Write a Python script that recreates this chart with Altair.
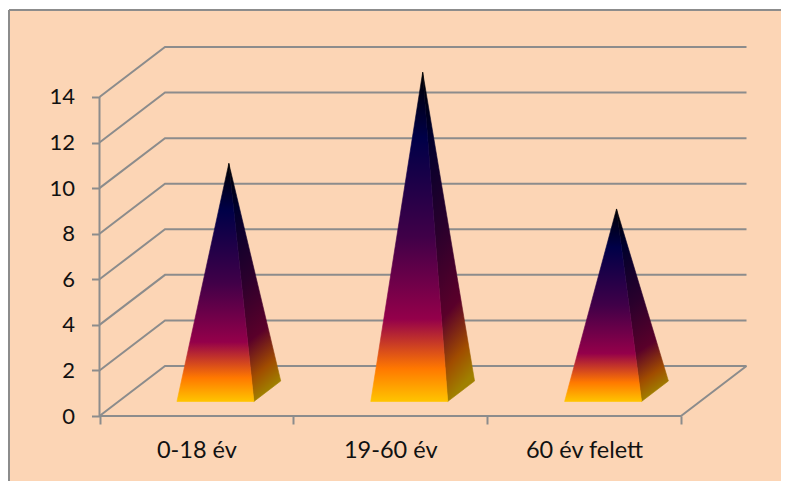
import altair as alt
import pandas as pd

categories = ["0-18 év", "19-60 év", "60 év felett"]
values = [10, 14, 8]
y_ticks = [0, 2, 4, 6, 8, 10, 12, 14]

# oblique projection of the chart's 3-D box, in data units
DX = 65.5 / 193.83
DY = 50 / 22.786
HALF = 0.1985
D_FRONT, D_BACK = 0.29, 0.70
D_MID = (D_FRONT + D_BACK) / 2
N = len(categories)
TOP = max(y_ticks)

GREY = "#8C8C8C"
FONT = "Lato"
TEXT = "#111111"


def proj(cat, val, depth):
    return cat + depth * DX, val + depth * DY


# wall, floor and axis lines
rows = []


def polyline(name, pts):
    for i, (x, y) in enumerate(pts):
        rows.append({"id": name, "seq": i, "x": x, "y": y})


for t in y_ticks:
    polyline(f"g{t}", [proj(0, t, 0), proj(0, t, 1), proj(N, t, 1)])
polyline("right", [proj(N, 0, 1), proj(N, 0, 0), proj(0, 0, 0), proj(0, TOP, 0)])
lines = pd.DataFrame(rows)

# pyramid faces
front, side = [], []
for i, (c, v) in enumerate(zip(categories, values)):
    cx = i + 0.5
    ax, ay = proj(cx, v, D_MID)
    fl, fy = proj(cx - HALF, 0, D_FRONT)
    fr, _ = proj(cx + HALF, 0, D_FRONT)
    br, by = proj(cx + HALF, 0, D_BACK)
    front += [
        {"cat": c, "y": ay, "x": ax, "x2": ax},
        {"cat": c, "y": fy, "x": fl, "x2": fr},
    ]
    left_at_back = fr + (ax - fr) * (by - fy) / (ay - fy)
    side += [
        {"cat": c, "y": ay, "x": ax, "x2": ax},
        {"cat": c, "y": by, "x": left_at_back, "x2": br},
        {"cat": c, "y": fy, "x": fr, "x2": fr},
    ]
front = pd.DataFrame(front)
side = pd.DataFrame(side)


def gradient(colors, **vec):
    offsets = [0, 0.2, 0.5, 0.75, 0.9, 1]
    return alt.Gradient(
        gradient="linear",
        stops=[alt.GradientStop(color=c, offset=o) for c, o in zip(colors, offsets)],
        **vec,
    )


front_fill = gradient(
    ["#000000", "#000048", "#400048", "#94004A", "#FF7800", "#FFC400"],
    x1=0, y1=0, x2=0, y2=1,
)
side_fill = gradient(
    ["#000000", "#00002C", "#2A002C", "#5A002A", "#A04C00", "#A08000"],
    x1=0, y1=0, x2=0.187, y2=1.0555,
)

W, H = 772, 480
xs = alt.Scale(domain=[0, N + DX], range=[90.5, 737.5], nice=False, zero=False)
ys = alt.Scale(domain=[0, TOP + DY], range=[406, 37], nice=False, zero=False)

label_expr = " : ".join(
    f"datum.value == {i + 0.5} ? '{c}'" for i, c in enumerate(categories)
) + " : ''"

x_axis = alt.Axis(
    values=[k / 2 for k in range(2 * N + 1)],
    labelExpr=label_expr,
    labelOverlap=False,
    labelFont=FONT,
    labelFontSize=23.5,
    labelColor=TEXT,
    labelPadding=14,
    labelFlush=False,
    domain=False,
    grid=False,
    tickColor=GREY,
    tickWidth=2,
    tickSize=8,
    tickOpacity={"condition": {"test": "datum.value % 1 != 0", "value": 0}, "value": 1},
    offset=-(H - 406),
    title=None,
)
y_axis = alt.Axis(
    values=y_ticks,
    labelFont=FONT,
    labelFontSize=22,
    labelColor=TEXT,
    labelPadding=17,
    domain=False,
    grid=False,
    tickColor=GREY,
    tickWidth=2,
    tickSize=8,
    offset=-90.5,
    title=None,
)

grid = alt.Chart(lines).mark_line(color=GREY, strokeWidth=2).encode(
    x=alt.X("x:Q", scale=xs, axis=x_axis),
    y=alt.Y("y:Q", scale=ys, axis=y_axis),
    detail="id:N",
    order="seq:Q",
)


def face(df, fill):
    return alt.Chart(df).mark_area(
        orient="horizontal", color=fill, line=False, stroke=fill, strokeWidth=0.6
    ).encode(
        x=alt.X("x:Q", scale=xs, axis=x_axis),
        x2="x2:Q",
        y=alt.Y("y:Q", scale=ys, axis=y_axis),
        detail="cat:N",
    )


# frame edges: only the top and left ones fall inside the picture
frame_top = alt.Chart(lines).mark_rule(color=GREY, strokeWidth=2).encode(
    x=alt.value(0), x2=alt.value(W), y=alt.value(0)
)
frame_left = alt.Chart(lines).mark_rule(color=GREY, strokeWidth=2).encode(
    x=alt.value(0), y=alt.value(0), y2=alt.value(H)
)

chart = (
    alt.layer(grid, face(side, side_fill), face(front, front_fill), frame_top, frame_left)
    .properties(
        width=W,
        height=H,
        autosize=alt.AutoSizeParams(type="none"),
        padding={"left": 1, "top": 2, "right": 0, "bottom": 0},
        background="white",
    )
    .configure_view(fill="#FCD5B5", stroke=None)
)

chart.save("out.html", embed_options={"renderer": "svg", "actions": False})
